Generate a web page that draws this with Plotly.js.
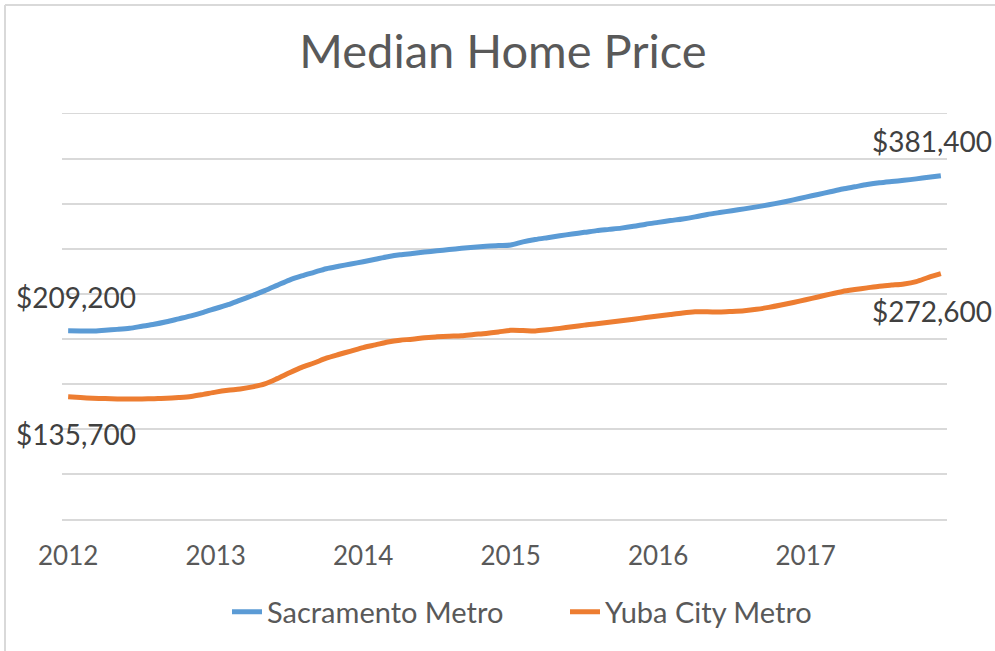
<!DOCTYPE html>
<html>
<head>
<meta charset="utf-8">
<script src="https://cdn.plot.ly/plotly-3.0.1.min.js"></script>
<style>
  html, body { margin: 0; padding: 0; background: #ffffff; }
  #chart { width: 995px; height: 651px; }
</style>
</head>
<body>
<div id="chart"></div>
<script>
// Monthly median home price, Jan 2012 .. Dec 2017 (in dollars)
const months = Array.from({length: 72}, (_, i) => i); // month index
const yearTickVals = [0, 12, 24, 36, 48, 60];
const yearTickText = ["2012", "2013", "2014", "2015", "2016", "2017"];

const sacramentoName = "Sacramento Metro";
const sacramento = [
  209200, 209000, 208900, 209800, 210700, 211900, 214100, 216300, 219100, 222400, 225700, 229600,
  233900, 238100, 243200, 248300, 253700, 259600, 265500, 270100, 274100, 278100, 280800, 283300,
  285900, 288600, 291300, 293500, 295000, 296600, 298000, 299400, 300800, 301900, 303000, 303900,
  304400, 307900, 310500, 312600, 314700, 316700, 318500, 320400, 321800, 323200, 325200, 327600,
  329600, 331600, 333400, 335700, 338400, 340500, 342500, 344600, 346800, 349100, 351700, 354600,
  357700, 360600, 363600, 366600, 369100, 371600, 373600, 375000, 376300, 377900, 379700, 381400
];

const yubaName = "Yuba City Metro";
const yuba = [
  135700, 134900, 134200, 133800, 133400, 133200, 133300, 133700, 134100, 135000, 136200, 138500,
  141000, 143000, 144500, 146800, 150200, 156000, 162500, 168500, 173300, 178700, 182800, 186600,
  190500, 193500, 196600, 198700, 199800, 201500, 202400, 203100, 203700, 205000, 206200, 207800,
  209600, 209400, 209000, 210300, 211800, 213600, 215400, 216900, 218500, 220200, 222000, 223800,
  225500, 227300, 229000, 230200, 230300, 229900, 230600, 231500, 233000, 235100, 237700, 240600,
  243600, 246700, 249900, 252800, 254900, 256800, 258700, 259900, 261200, 263800, 268500, 272600
];

const titleText = "Median Home Price";

function money(v) { return "$" + v.toLocaleString("en-US"); }

const FONT = "Lato, 'Open Sans', sans-serif";
const BLUE = "#5B9BD5";
const ORANGE = "#ED7D31";

const traces = [
  {x: months, y: sacramento, name: sacramentoName, type: "scatter", mode: "lines",
   line: {color: BLUE, width: 5, shape: "spline", smoothing: 0.8}, hoverinfo: "skip"},
  {x: months, y: yuba, name: yubaName, type: "scatter", mode: "lines",
   line: {color: ORANGE, width: 5, shape: "spline", smoothing: 0.8}, hoverinfo: "skip"}
];

const last = months.length - 1;
const labelFont = {family: FONT, size: 28, color: "#404040"};
const annotations = [
  {x: months[0], y: sacramento[0], xref: "x", yref: "y", text: money(sacramento[0]), showarrow: false,
   xshift: 8, yshift: 34, font: labelFont},
  {x: months[0], y: yuba[0], xref: "x", yref: "y", text: money(yuba[0]), showarrow: false,
   xshift: 8, yshift: -37, font: labelFont},
  {x: months[last], y: sacramento[last], xref: "x", yref: "y", text: money(sacramento[last]), showarrow: false,
   xshift: -9, yshift: 35, font: labelFont},
  {x: months[last], y: yuba[last], xref: "x", yref: "y", text: money(yuba[last]), showarrow: false,
   xshift: -9, yshift: -37, font: labelFont}
];

// chart frame (light grey border, cropped on right/bottom)
const L = 62, R = 48, T = 114, B = 132, W = 995, H = 651;
const pw = W - L - R, ph = H - T - B;
const fx = (px) => (px - L) / pw;
const fy = (py) => (H - B - py) / ph;
const shapes = [
  {type: "line", xref: "paper", yref: "paper", x0: fx(5), x1: fx(5), y0: fy(700), y1: fy(5),
   line: {color: "#d9d9d9", width: 2}},
  {type: "line", xref: "paper", yref: "paper", x0: fx(5), x1: fx(1100), y0: fy(5), y1: fy(5),
   line: {color: "#d9d9d9", width: 2}}
];

const layout = {
  width: W, height: H,
  margin: {l: L, r: R, t: T, b: B, pad: 0},
  paper_bgcolor: "#ffffff", plot_bgcolor: "#ffffff",
  title: {text: titleText, x: fx(503), xanchor: "center", xref: "paper", y: 1 - 52 / H, yanchor: "middle", yref: "container",
          font: {family: FONT, size: 47, color: "#595959"}},
  showlegend: true,
  legend: {orientation: "h", x: fx(227), xanchor: "left", y: fy(612), yanchor: "middle",
           font: {family: FONT, size: 29, color: "#595959"}, entrywidth: 293, entrywidthmode: "pixels"},
  xaxis: {range: [-0.5, 71.5], tickmode: "array", tickvals: yearTickVals, ticktext: yearTickText,
          showgrid: false, zeroline: false, showline: true, mirror: true, linecolor: "#d9d9d9", linewidth: 1.5,
          ticks: "", ticklabelstandoff: 13,
          tickfont: {family: FONT, size: 26, color: "#595959"}, fixedrange: true},
  yaxis: {range: [0, 450000], dtick: 50000, tick0: 0, showticklabels: false, showgrid: true,
          gridcolor: "#d9d9d9", gridwidth: 1.5, zeroline: false, showline: false, ticks: "", fixedrange: true},
  annotations: annotations,
  shapes: shapes
};

Plotly.newPlot("chart", traces, layout, {displayModeBar: false, staticPlot: true});
</script>
</body>
</html>
